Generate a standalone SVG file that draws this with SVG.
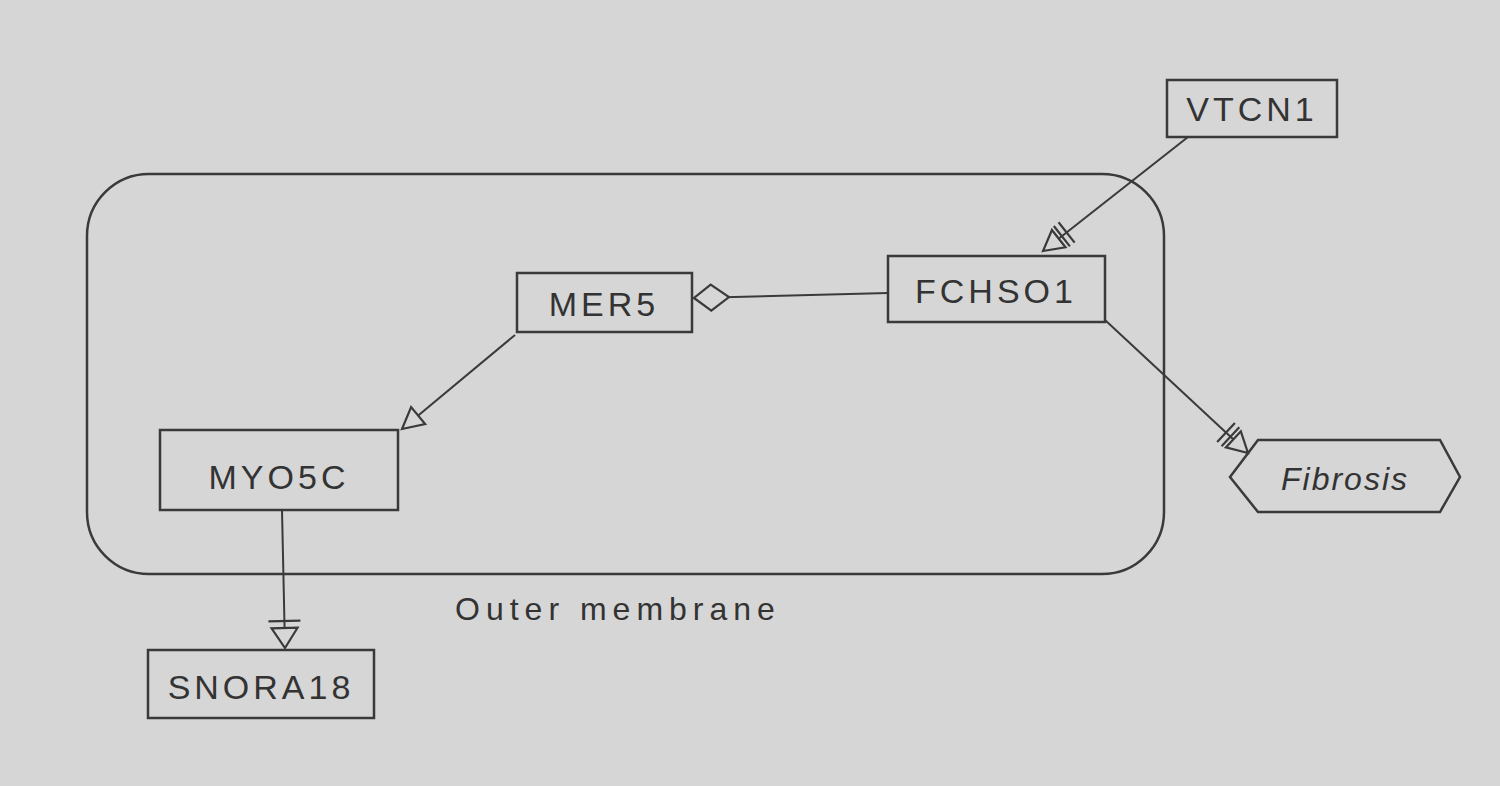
<svg xmlns="http://www.w3.org/2000/svg" width="1500" height="786" viewBox="0 0 1500 786">
<style>
.bg{fill:#d6d6d6}
.box{fill:none;stroke:#3a3a3a;stroke-width:2.5}
.lbl{font-family:"Liberation Sans",Arial,sans-serif;font-size:34px;fill:#333;letter-spacing:4px}
.edge{fill:none;stroke:#3a3a3a;stroke-width:2}
.mk{fill:#d6d6d6;stroke:#3a3a3a;stroke-width:2.2}
</style>
<defs>
<marker id="tri" markerUnits="userSpaceOnUse" markerWidth="40" markerHeight="40" refX="24" refY="20" orient="auto" viewBox="0 0 40 40">
<path class="mk" d="M24,20 L3,9 L3,31 Z"/>
</marker>
<marker id="tri2" markerUnits="userSpaceOnUse" markerWidth="44" markerHeight="40" refX="34" refY="20" orient="auto" viewBox="0 0 44 40">
<path class="mk" d="M34,20 L14,9 L14,31 Z M10,7 L10,33 M4,7 L4,33"/>
</marker>
<marker id="tri1" markerUnits="userSpaceOnUse" markerWidth="44" markerHeight="44" refX="34" refY="22" orient="auto" viewBox="0 0 44 44">
<path class="mk" d="M34,22 L14,9 L14,35 Z M7,6 L7,38"/>
</marker>
<marker id="dia" markerUnits="userSpaceOnUse" markerWidth="44" markerHeight="40" refX="40" refY="20" orient="auto" viewBox="0 0 44 40">
<path class="mk" d="M40,20 L23,7 L5,20 L23,33 Z"/>
</marker>
</defs>
<rect class="bg" width="1500" height="786"/>
<g id="container">
<rect class="box" x="87" y="174" width="1077" height="400" rx="62" ry="62"/>
<text class="lbl" x="455" y="620" style="font-size:32px;letter-spacing:6px">Outer membrane</text>
</g>
<g id="connectors">
<path class="edge" d="M1188,137 L1043,251" marker-end="url(#tri2)"/>
<path class="edge" d="M888,293 L694,298" marker-end="url(#dia)"/>
<path class="edge" d="M515,335 L402,429" marker-end="url(#tri)"/>
<path class="edge" d="M282,510 L285,648" marker-end="url(#tri1)"/>
<path class="edge" d="M1105,320 L1248,453" marker-end="url(#tri2)"/>
</g>
<g id="VTCN1">
<rect class="box" x="1167" y="80" width="170" height="57"/>
<text class="lbl" x="1252" y="121" text-anchor="middle">VTCN1</text>
</g>
<g id="FCHSO1">
<rect class="box" x="888" y="256" width="217" height="66"/>
<text class="lbl" x="996" y="303" text-anchor="middle">FCHSO1</text>
</g>
<g id="MER5">
<rect class="box" x="517" y="273" width="175" height="59"/>
<text class="lbl" x="604" y="316" text-anchor="middle">MER5</text>
</g>
<g id="MYO5C">
<rect class="box" x="160" y="430" width="238" height="80"/>
<text class="lbl" x="279" y="489" text-anchor="middle">MYO5C</text>
</g>
<g id="SNORA18">
<rect class="box" x="148" y="650" width="226" height="68"/>
<text class="lbl" x="261" y="699" text-anchor="middle">SNORA18</text>
</g>
<g id="Fibrosis">
<polygon class="box" points="1230,477 1258,440 1440,440 1460,477 1440,512 1258,512"/>
<text class="lbl" x="1345" y="490" text-anchor="middle" style="font-style:italic;font-size:32px;letter-spacing:2px">Fibrosis</text>
</g>
</svg>
